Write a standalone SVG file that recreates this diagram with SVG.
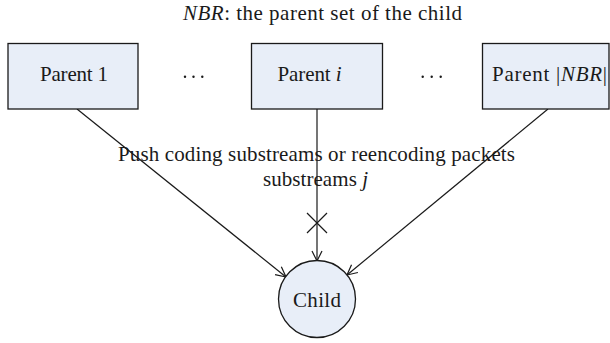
<svg xmlns="http://www.w3.org/2000/svg" width="610" height="343" viewBox="0 0 610 343">
  <style>
    text { font-family: "Liberation Serif", "Times New Roman", serif; font-size: 21px; fill: #1a1a1a; }
    .node { fill: #e8eef8; stroke: #1a1a1a; stroke-width: 1.3; }
    .edge { fill: none; stroke: #1a1a1a; stroke-width: 1.2; }
    .it { font-style: italic; }
    .dot { fill: #1a1a1a; }
  </style>
  <defs>
    <marker id="arrow" markerUnits="userSpaceOnUse" markerWidth="14" markerHeight="14" viewBox="0 0 14 14" refX="12" refY="7" orient="auto">
      <path d="M2,2 L12,7 L2,12" fill="none" stroke="#1a1a1a" stroke-width="1.2"/>
    </marker>
  </defs>
  <rect width="610" height="343" fill="#ffffff"/>

  <text x="322.5" y="20" text-anchor="middle" textLength="279" lengthAdjust="spacing"><tspan class="it">NBR</tspan>: the parent set of the child</text>

  <g id="connectors">
    <line class="edge" x1="77" y1="109" x2="286" y2="277" marker-end="url(#arrow)"/>
    <line class="edge" x1="317" y1="109" x2="317" y2="261" marker-end="url(#arrow)"/>
    <line class="edge" x1="548" y1="109" x2="347" y2="275" marker-end="url(#arrow)"/>
    <path class="edge" d="M307,213 L327,233 M327,213 L307,233"/>
  </g>

  <g id="parent-1">
    <rect class="node" x="8" y="43.5" width="130" height="65.5"/>
    <text x="74" y="81" text-anchor="middle" textLength="68" lengthAdjust="spacing">Parent 1</text>
  </g>

  <g id="dots-left">
    <circle class="dot" cx="185" cy="76.7" r="1.2"/>
    <circle class="dot" cx="193.5" cy="76.7" r="1.2"/>
    <circle class="dot" cx="202.3" cy="76.7" r="1.2"/>
  </g>

  <g id="parent-i">
    <rect class="node" x="251.5" y="43.5" width="131" height="65.5"/>
    <text x="309.5" y="81" text-anchor="middle" textLength="64" lengthAdjust="spacing">Parent <tspan class="it">i</tspan></text>
  </g>

  <g id="dots-right">
    <circle class="dot" cx="422.7" cy="76.7" r="1.2"/>
    <circle class="dot" cx="431.7" cy="76.7" r="1.2"/>
    <circle class="dot" cx="440.7" cy="76.7" r="1.2"/>
  </g>

  <g id="parent-nbr">
    <rect class="node" x="482.5" y="43.5" width="126.5" height="65.5"/>
    <text x="549.5" y="81" text-anchor="middle" textLength="115" lengthAdjust="spacing">Parent |<tspan class="it">NBR</tspan>|</text>
  </g>

  <g id="edge-label">
    <text x="316.5" y="161" text-anchor="middle" textLength="397" lengthAdjust="spacing">Push coding substreams or reencoding packets</text>
    <text x="315.5" y="186" text-anchor="middle" textLength="105" lengthAdjust="spacing">substreams <tspan class="it">j</tspan></text>
  </g>

  <g id="child">
    <circle class="node" cx="317" cy="299" r="38.5"/>
    <text x="317" y="307" text-anchor="middle" textLength="48" lengthAdjust="spacing">Child</text>
  </g>
</svg>
